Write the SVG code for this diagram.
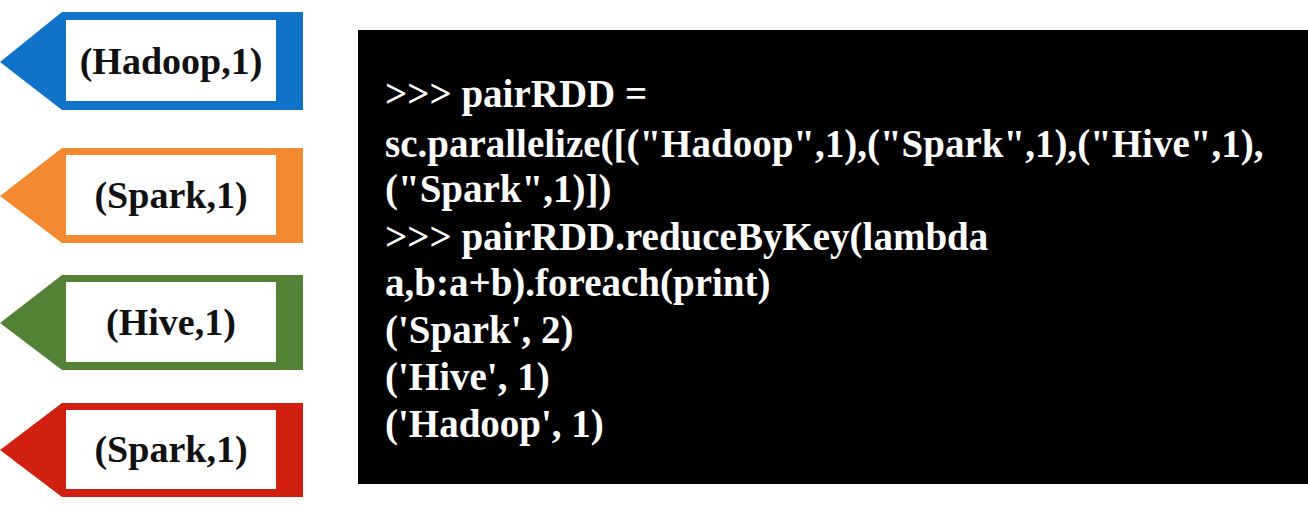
<svg xmlns="http://www.w3.org/2000/svg" width="1308" height="512" viewBox="0 0 1308 512">
<style>
.lbl{font-family:'Liberation Serif','Times New Roman','DejaVu Serif',serif;font-weight:bold;font-size:38px;fill:#111;text-anchor:middle}
.code{font-family:'Liberation Serif','Times New Roman','DejaVu Serif',serif;font-weight:bold;font-size:39px;fill:#fff}
</style>
<rect width="1308" height="512" fill="#fff"/>
<g id="n1"><polygon points="0,62 62,12 303,12 303,110 62,110" fill="#1173c7"/><rect x="66" y="20" width="210" height="81" fill="#fff"/><text class="lbl" x="171" y="74">(Hadoop,1)</text></g>
<g id="n2"><polygon points="0,196 62,148 303,148 303,243 62,243" fill="#f38a31"/><rect x="66" y="155" width="210" height="80" fill="#fff"/><text class="lbl" x="171" y="208">(Spark,1)</text></g>
<g id="n3"><polygon points="0,323 62,275 303,275 303,370 62,370" fill="#538135"/><rect x="66" y="282" width="210" height="80" fill="#fff"/><text class="lbl" x="171" y="335">(Hive,1)</text></g>
<g id="n4"><polygon points="0,450 62,403 303,403 303,497 62,497" fill="#d1200f"/><rect x="66" y="410" width="210" height="79" fill="#fff"/><text class="lbl" x="171" y="462">(Spark,1)</text></g>
<g id="code">
<rect x="358" y="30" width="950" height="454" fill="#000"/>
<text class="code" x="385" y="107">&gt;&gt;&gt; pairRDD =</text>
<text class="code" x="385" y="157">sc.parallelize([("Hadoop",1),("Spark",1),("Hive",1),</text>
<text class="code" x="385" y="202">("Spark",1)])</text>
<text class="code" x="385" y="250">&gt;&gt;&gt; pairRDD.reduceByKey(lambda</text>
<text class="code" x="385" y="296">a,b:a+b).foreach(print)</text>
<text class="code" x="385" y="343">('Spark', 2)</text>
<text class="code" x="385" y="390">('Hive', 1)</text>
<text class="code" x="385" y="437">('Hadoop', 1)</text>
</g>
<g id="connectors"/>
</svg>
